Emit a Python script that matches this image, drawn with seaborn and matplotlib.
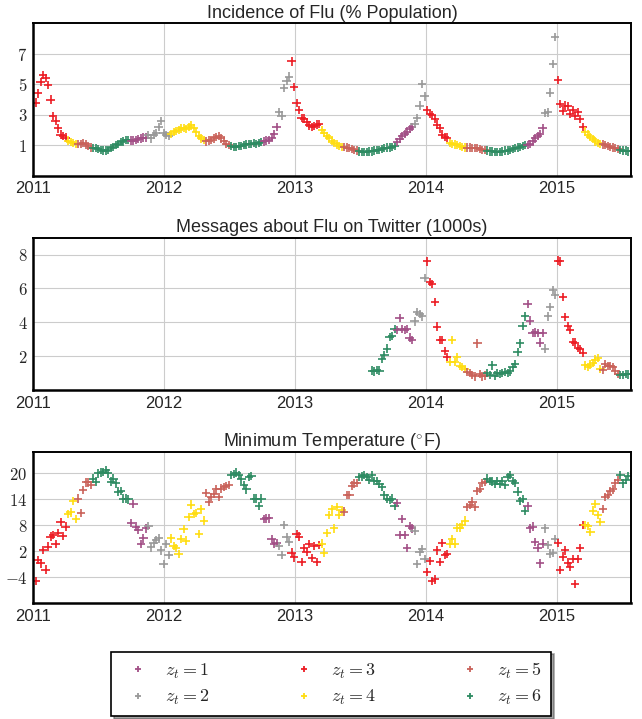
import numpy as np
import pandas as pd
import seaborn as sns
import matplotlib.pyplot as plt
from matplotlib.lines import Line2D

# weekly observations, first week ending 2011-01-08
start = '2011-01-08'
n_weeks = 237

# hidden state z_t, written as (state, number of weeks) runs
state_runs = [(3, 13), (4, 4), (5, 6), (6, 15), (1, 7), (2, 9), (4, 14), (5, 10), (6, 13),
              (1, 6), (2, 5), (3, 12), (4, 9), (5, 6), (6, 15), (1, 7), (2, 5), (3, 9),
              (4, 7), (5, 8), (6, 16), (1, 7), (2, 5), (3, 11), (4, 7), (5, 7), (6, 4)]

# flu incidence (% population)
flu = [
    3.8, 4.4, 5.15, 5.6, 5.4, 4.95, 4.0, 2.9, 2.6, 2.1, 1.7, 1.6, 1.5,
    1.3, 1.2, 1.15, 1.1,
    1.1, 1.1, 1.15, 1.05, 0.95, 0.85,
    0.8, 0.8, 0.75, 0.7, 0.65, 0.65, 0.7, 0.8, 0.9, 1.0, 1.1, 1.2, 1.25, 1.35, 1.35,
    1.3, 1.3, 1.35, 1.4, 1.45, 1.5, 1.5,
    1.65, 1.45, 1.7, 1.8, 2.2, 2.6, 1.8, 1.65, 1.6,
    1.75, 1.85, 1.95, 2.0, 2.1, 2.15, 2.05, 2.2, 2.3, 2.15, 1.85, 1.6, 1.45, 1.35,
    1.25, 1.3, 1.35, 1.45, 1.55, 1.6, 1.45, 1.3, 1.1, 1.0,
    0.95, 0.9, 0.9, 0.95, 0.95, 1.0, 1.05, 1.1, 1.1, 1.15, 1.1, 1.15, 1.2,
    1.25, 1.3, 1.35, 1.5, 1.75, 2.2,
    3.2, 2.95, 4.75, 5.2, 5.5,
    6.5, 4.8, 3.75, 3.3, 2.8, 2.75, 2.5, 2.3, 2.2, 2.25, 2.35, 2.4,
    2.0, 1.8, 1.6, 1.45, 1.3, 1.15, 1.05, 0.95, 0.9,
    0.9, 0.85, 0.8, 0.75, 0.7, 0.65,
    0.6, 0.55, 0.55, 0.55, 0.6, 0.6, 0.65, 0.7, 0.7, 0.75, 0.8, 0.85, 0.85, 0.9, 0.95,
    1.2, 1.4, 1.6, 1.75, 1.9, 2.05, 2.2,
    2.4, 2.8, 3.6, 5.0, 4.2,
    3.3, 3.05, 3.0, 2.7, 2.35, 2.1, 1.7, 1.55, 1.5,
    1.15, 1.1, 1.05, 1.0, 0.95, 0.9, 0.85,
    0.85, 0.85, 0.8, 0.8, 0.8, 0.75, 0.7, 0.7,
    0.65, 0.6, 0.6, 0.55, 0.55, 0.55, 0.6, 0.65, 0.65, 0.7, 0.75, 0.8, 0.85, 0.9, 0.95, 1.0,
    1.0, 1.1, 1.25, 1.45, 1.6, 1.75, 2.1,
    3.1, 3.15, 4.45, 6.35, 8.1,
    5.3, 3.7, 3.25, 3.6, 3.55, 3.05, 3.3, 2.9, 3.2, 2.7, 2.2,
    1.9, 1.7, 1.55, 1.4, 1.25, 1.15, 1.1,
    1.05, 1.0, 0.95, 0.9, 0.85, 0.8, 0.75,
    0.7, 0.65, 0.65, 0.6,
]

# twitter messages (1000s), only collected from mid 2013
twitter = [np.nan] * 134 + [
    1.15, 1.1, 1.2, 1.15, 1.85, 2.05, 2.45, 3.15, 3.2, 3.6,
    3.55, 4.25, 3.6, 3.55, 3.6, 3.1, 2.95,
    4.05, 4.6, 4.5, 4.35, 6.6,
    7.6, 6.4, 6.25, 5.2, 3.75, 2.95, 2.95, 2.3, 1.95,
    1.65, 2.95, 1.65, 1.95, 1.4, 1.35, 1.25,
    1.05, 1.0, 0.9, 0.8, 2.75, 0.95, 0.8, 0.85,
    1.0, 0.9, 1.45, 0.85, 1.0, 0.95, 1.0, 1.05, 1.0, 1.1, 1.35, 1.55, 2.25, 2.75, 3.8, 4.35,
    5.1, 4.1, 3.35, 3.4, 3.35, 2.8, 3.35,
    2.45, 4.35, 4.9, 5.9, 5.6,
    7.65, 7.6, 5.5, 4.3, 3.8, 3.55, 2.85, 2.8, 2.5, 2.4, 2.2,
    1.45, 1.35, 1.5, 1.6, 1.8, 1.9, 1.25,
    1.2, 1.55, 1.4, 1.4, 1.35, 1.15, 0.95,
    0.88, 0.9, 0.95, 0.92,
]

# minimum temperature (F)
temp = [
    -4.8, 0.0, -0.8, 2.3, -2.2, 3.1, 5.4, 5.8, 3.7, 6.2, 8.8, 5.6, 7.7,
    10.6, 11.0, 13.6, 9.5,
    14.2, 10.9, 16.2, 17.9, 17.9, 17.3,
    18.8, 18.1, 20.0, 20.2, 20.4, 20.8, 20.0, 18.1, 18.8, 17.7, 15.8, 16.0, 14.2, 14.2, 14.0,
    8.5, 12.9, 7.7, 7.0, 3.7, 5.0, 7.3,
    7.8, 2.9, 4.0, 4.6, 5.0, 2.2, -0.9, 3.7, 1.2,
    5.0, 3.2, 2.7, 1.4, 4.8, 7.1, 4.5, 10.0, 12.8, 10.6, 10.9, 6.0, 11.7, 9.1,
    15.4, 13.5, 14.5, 15.2, 16.3, 14.5, 16.5, 16.9, 17.1, 17.3,
    19.6, 19.8, 20.2, 19.6, 18.6, 17.3, 16.3, 19.1, 19.4, 14.2, 14.2, 12.5, 14.2,
    9.5, 9.6, 9.6, 4.8, 3.8, 4.0,
    3.2, 1.2, 8.1, 5.2, 4.2,
    1.7, 0.6, 6.0, 5.4, -0.4, 2.7, 1.9, 3.7, 0.4, 3.2, -0.4, 3.5,
    3.8, 1.7, 6.2, 10.4, 11.7, 7.3, 12.2, 10.5, 11.5,
    11.2, 15.0, 15.0, 17.2, 17.7, 17.8,
    19.1, 19.3, 19.6, 19.1, 18.5, 19.6, 18.3, 18.3, 17.5, 16.9, 15.0, 14.2, 13.8, 14.2, 12.5,
    13.1, 5.8, 9.4, 5.8, 2.7, 7.8, 7.3,
    6.8, -0.9, 1.9, 2.6, 0.2,
    -2.7, -0.2, -4.8, -4.5, 2.2, -0.4, 4.0, 1.2, 1.4,
    3.7, 4.8, 3.7, 7.5, 7.5, 8.1, 9.1,
    12.2, 12.7, 13.5, 12.2, 16.0, 16.5, 17.8, 18.0,
    18.8, 18.3, 18.1, 17.5, 18.3, 17.5, 18.3, 17.3, 19.1, 19.6, 18.3, 17.8, 15.8, 13.7, 14.1, 11.4,
    12.5, 7.3, 7.7, 4.2, 2.7, -0.8, 3.8,
    7.3, 3.5, 1.5, 1.6, 4.8,
    4.0, -2.3, 0.8, 2.2, -0.6, -1.5, 0.2, -5.5, 0.2, 2.7, 8.1,
    8.1, 7.8, 6.5, 11.4, 12.9, 10.4, 8.8,
    11.8, 14.6, 15.0, 16.0, 16.3, 17.7, 18.5,
    19.6, 17.7, 18.5, 19.4,
]

state_colors = {1: '#a24f86', 2: '#999999', 3: '#ec1c24', 4: '#ffdd11', 5: '#c9625a', 6: '#2e8b62'}
years = [2011, 2012, 2013, 2014, 2015]

dates = pd.date_range(start, periods=n_weeks, freq='7D')
df = pd.DataFrame({
    't': 2011 + (dates - pd.Timestamp('2011-01-01')).days / 365.25,
    'z': np.repeat([s for s, n in state_runs], [n for s, n in state_runs]),
    'flu': flu,
    'twitter': twitter,
    'temp': temp,
})

sns.set_style('whitegrid')
plt.rcParams['font.family'] = ['Liberation Sans', 'DejaVu Sans']
plt.rcParams['mathtext.fontset'] = 'cm'

fig = plt.figure(figsize=(6.42, 7.19), dpi=100)

panels = [
    ('flu', 'Incidence of Flu (% Population)', (-1, 9), [1, 3, 5, 7], [0.0514, 0.7556, 0.9315, 0.2120]),
    ('twitter', 'Messages about Flu on Twitter (1000s)', (0, 9), [2, 4, 6, 8], [0.0514, 0.4576, 0.9315, 0.2118]),
    ('temp', 'Minimum Temperature ($^{\\circ}$F)', (-10, 25), [-4, 2, 8, 14, 20], [0.0514, 0.1609, 0.9315, 0.2108]),
]

for col, title, ylim, yticks, rect in panels:
    ax = fig.add_axes(rect)
    sns.scatterplot(data=df, x='t', y=col, hue='z', palette=state_colors, marker='+',
                    s=36, linewidth=1.2, legend=False, ax=ax)
    ax.set_xlim(2011, 2015.565)
    ax.set_ylim(*ylim)
    ax.set_xticks(years)
    ax.set_xticklabels([str(y) for y in years], fontsize=12)
    ax.set_yticks(yticks)
    ax.set_yticklabels(['$%d$' % v for v in yticks], fontsize=12)
    ax.set_xlabel('')
    ax.set_ylabel('')
    ax.set_title(title, fontsize=13, pad=4)
    ax.grid(True, color='#cccccc', linewidth=0.8)
    ax.tick_params(direction='in', length=4, width=1, color='black', pad=4)
    for side, sp in ax.spines.items():
        sp.set_color('black')
        sp.set_linewidth(1.8 if side in ('left', 'bottom') else 1.4)

handles = [Line2D([], [], marker='+', linestyle='', color=state_colors[k], markersize=5, mew=1.3)
           for k in range(1, 7)]
labels = ['$z_t = %d$' % k for k in range(1, 7)]
leg = fig.legend(handles, labels, loc='center', bbox_to_anchor=(0.5156, 0.049), ncol=3,
                 frameon=True, fancybox=False, shadow=True, edgecolor='black', fontsize=13,
                 columnspacing=4.2, handletextpad=0.5, handlelength=2.0, borderpad=0.5,
                 labelspacing=0.4)
leg.get_frame().set_linewidth(1.2)

fig.savefig('out.png', dpi=100)
